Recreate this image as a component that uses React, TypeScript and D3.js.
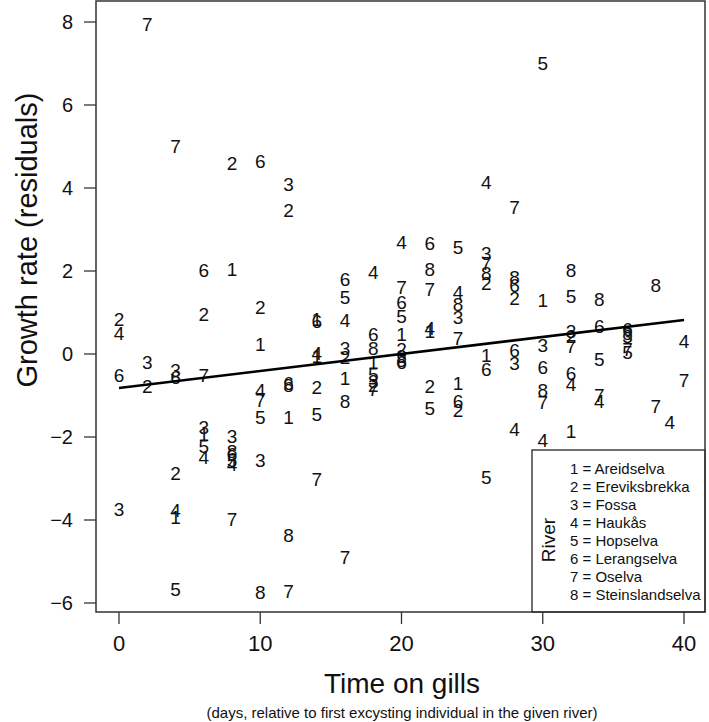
import React from "react";
import * as d3 from "d3";

// ---- data ----
const timeOnGills = [
  2, 4, 8, 10, 12, 12, 6, 8, 6, 10, 10, 0, 0, 2, 0, 2, 4, 4, 6, 10, 10, 12, 12, 10, 12,
  6, 6, 6, 6, 8, 8, 8, 8, 8, 10, 4, 0, 4, 4, 8, 12, 4, 10, 12,
  14, 14, 14, 14, 14, 14, 14,
  16, 16, 16, 16, 16, 16, 16, 16,
  18, 18, 18, 18, 18, 18, 18, 18,
  20, 20, 20, 20, 20, 20, 20, 20, 20,
  22, 22, 22, 22, 22, 22, 22,
  24, 24, 24, 24, 24, 24, 24, 24,
  26, 26, 26, 26, 26, 26, 26, 26,
  30, 28, 28, 28, 28, 30, 32, 32, 34, 38, 34, 32, 32, 36, 36, 36, 40, 30, 32, 36, 36,
  28, 28, 30, 34, 32, 32, 30, 30, 34, 34, 40, 38, 39, 28, 30, 32,
];
const residuals = [
  7.95, 5.02, 4.6, 4.65, 4.1, 3.46, 2.02, 2.04, 0.96, 1.14, 0.23, 0.85, 0.5, -0.2, -0.51, -0.77, -0.38, -0.55, -0.5, -0.88, -1.12, -0.7, -0.75, -1.53, -1.53,
  -1.77, -1.93, -2.21, -2.48, -1.97, -2.35, -2.42, -2.55, -2.65, -2.57, -2.87, -3.73, -3.76, -3.93, -3.97, -4.37, -5.67, -5.73, -5.71,
  0.85, 0.8, 0.02, -0.05, -0.8, -1.45, -3.01,
  1.81, 1.38, 0.82, 0.14, -0.08, -0.58, -1.13, -4.9,
  1.97, 0.47, 0.14, -0.19, -0.49, -0.65, -0.76, -0.85,
  2.69, 1.6, 1.26, 0.9, 0.47, 0.12, -0.05, -0.15, -0.2,
  2.66, 2.04, 1.57, 0.62, 0.55, -0.77, -1.31,
  2.58, 1.49, 1.2, 0.88, 0.38, -0.7, -1.13, -1.36,
  4.13, 2.42, 2.18, 1.95, 1.7, -0.03, -0.37, -2.97,
  7.02, 3.54, 1.86, 1.65, 1.35, 1.29, 2.01, 1.4, 1.33, 1.66, 0.66, 0.54, 0.42, 0.6, 0.5, 0.42, 0.32, 0.21, 0.18, 0.12, 0.05,
  0.1, -0.22, -0.31, -0.13, -0.46, -0.73, -0.88, -1.17, -0.99, -1.13, -0.64, -1.25, -1.65, -1.81, -2.08, -1.85,
];
const riverCode = [
  7, 7, 2, 6, 3, 2, 6, 1, 2, 2, 1, 2, 4, 3, 6, 2, 3, 6, 7, 4, 7, 6, 8, 5, 1,
  3, 1, 5, 4, 3, 8, 6, 5, 4, 3, 2, 3, 4, 1, 7, 8, 5, 8, 7,
  1, 6, 4, 1, 2, 5, 7,
  6, 5, 4, 3, 2, 1, 8, 7,
  4, 6, 8, 1, 5, 3, 2, 7,
  4, 7, 6, 5, 1, 2, 3, 8, 6,
  6, 8, 7, 4, 1, 2, 5,
  5, 4, 8, 3, 7, 1, 6, 2,
  4, 3, 7, 8, 2, 1, 6, 5,
  5, 7, 8, 6, 2, 1, 8, 5, 8, 8, 6, 3, 2, 6, 8, 3, 4, 3, 7, 7, 5,
  6, 3, 6, 5, 6, 4, 8, 7, 7, 4, 7, 7, 4, 4, 4, 1,
];
const riverNames = [
  "Areidselva",
  "Ereviksbrekka",
  "Fossa",
  "Haukås",
  "Hopselva",
  "Lerangselva",
  "Oselva",
  "Steinslandselva",
];
const xTicks = [0, 10, 20, 30, 40];
const yTicks = [-6, -4, -2, 0, 2, 4, 6, 8];
const fitX = [0, 40];
const fitY = [-0.82, 0.82];

const FONT = "'Liberation Sans', Arial, Helvetica, sans-serif";

export default function App() {
  const W = 709;
  const H = 722;
  const left = 96;
  const right = 705;
  const top = 1;
  const bottom = 612;

  const x = d3.scaleLinear().domain([0, 40]).range([119, 684]);
  const y = d3.scaleLinear().domain([-6, 8]).range([603, 22]);

  const points = timeOnGills.map((t, i) => ({ t, r: residuals[i], c: riverCode[i] }));
  const line = d3
    .line<number>()
    .x((d) => x(d))
    .y((_, i) => y(fitY[i]));

  const legLeft = 532;
  const legTop = 450;
  const rowY0 = 469;
  const rowStep = 18;

  return (
    <svg
      width={W}
      height={H}
      style={{ position: "absolute", left: 0, top: 0, background: "#fff" }}
      fontFamily={FONT}
    >
      <rect x={0} y={0} width={W} height={H} fill="#fff" />
      {/* points as digits */}
      {points.map((p, i) => (
        <text
          key={i}
          x={x(p.t)}
          y={y(p.r)}
          dy="0.36em"
          textAnchor="middle"
          fontSize={19}
          fill="#111"
        >
          {p.c}
        </text>
      ))}
      {/* regression line */}
      <path d={line(fitX) || ""} fill="none" stroke="#000" strokeWidth={2.6} />
      {/* legend */}
      <rect
        x={legLeft}
        y={legTop}
        width={right - legLeft}
        height={bottom - legTop}
        fill="#fff"
        stroke="#222"
        strokeWidth={1.3}
      />
      <text
        transform={`translate(${548},${540}) rotate(-90)`}
        textAnchor="middle"
        dy="0.36em"
        fontSize={19}
        fill="#111"
      >
        River
      </text>
      {riverNames.map((n, i) => (
        <text key={n} x={570} y={rowY0 + i * rowStep} dy="0.36em" fontSize={15} fill="#111">
          {`${i + 1} = ${n}`}
        </text>
      ))}
      {/* frame */}
      <rect
        x={left}
        y={top}
        width={right - left}
        height={bottom - top}
        fill="none"
        stroke="#333"
        strokeWidth={1.5}
      />
      {/* x axis */}
      {xTicks.map((t) => (
        <g key={t}>
          <line x1={x(t)} x2={x(t)} y1={bottom} y2={bottom + 12} stroke="#333" strokeWidth={1.3} />
          <text x={x(t)} y={643} dy="0.36em" textAnchor="middle" fontSize={22} fill="#111">
            {t}
          </text>
        </g>
      ))}
      {/* y axis */}
      {yTicks.map((t) => (
        <g key={t}>
          <line x1={left - 12} x2={left} y1={y(t)} y2={y(t)} stroke="#333" strokeWidth={1.3} />
          <text x={73} y={y(t)} dy="0.36em" textAnchor="end" fontSize={20} fill="#111">
            {t < 0 ? `\u2212${Math.abs(t)}` : t}
          </text>
        </g>
      ))}
      <text x={402} y={683} dy="0.36em" textAnchor="middle" fontSize={28} fill="#111">
        Time on gills
      </text>
      <text x={402} y={713} dy="0.36em" textAnchor="middle" fontSize={15} fill="#111">
        (days, relative to first excysting individual in the given river)
      </text>
      <text
        transform={`translate(${27},${240}) rotate(-90)`}
        textAnchor="middle"
        dy="0.36em"
        fontSize={29}
        fill="#111"
      >
        Growth rate (residuals)
      </text>
    </svg>
  );
}
